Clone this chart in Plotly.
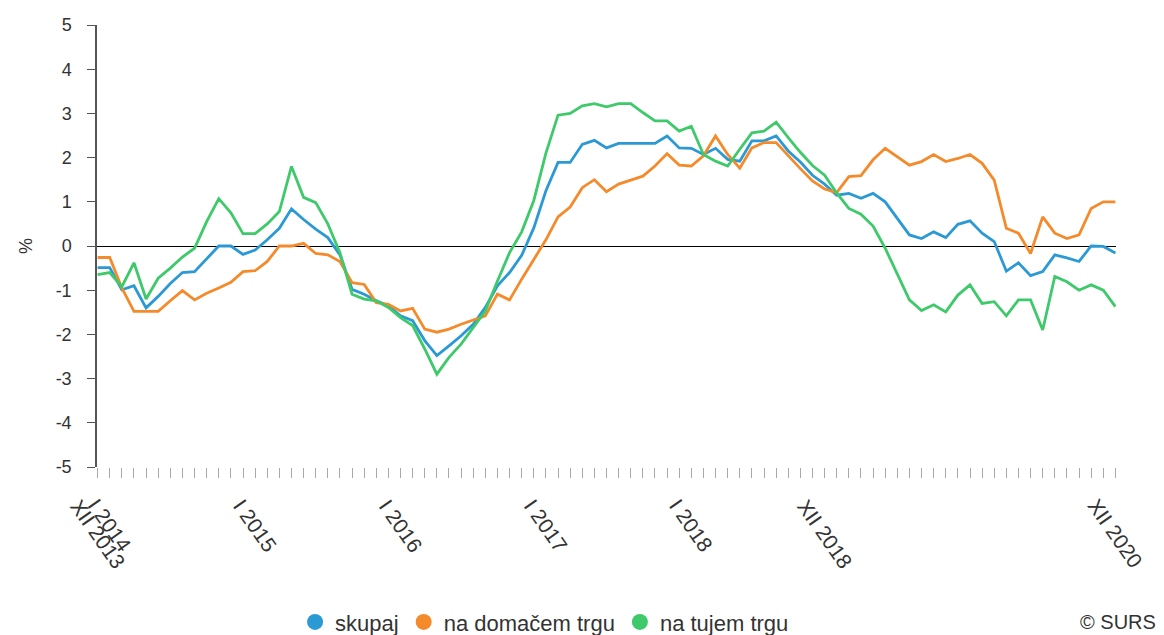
import plotly.graph_objects as go

months = list(range(85))  # XII 2013 .. XII 2020

skupaj = [-0.49, -0.49, -0.99, -0.90, -1.40, -1.14, -0.85, -0.60, -0.58, -0.28,
          0.00, 0.00, -0.19, -0.09, 0.14, 0.40, 0.84, 0.60, 0.38, 0.19,
          -0.20, -0.98, -1.09, -1.24, -1.35, -1.58, -1.69, -2.14, -2.48, -2.26,
          -2.03, -1.77, -1.39, -0.90, -0.60, -0.21, 0.41, 1.25, 1.89, 1.89,
          2.30, 2.39, 2.22, 2.32, 2.32, 2.32, 2.32, 2.49, 2.22, 2.21,
          2.07, 2.21, 1.96, 1.92, 2.38, 2.38, 2.49, 2.15, 1.90, 1.60,
          1.40, 1.15, 1.19, 1.08, 1.19, 1.00, 0.63, 0.25, 0.17, 0.32,
          0.19, 0.49, 0.57, 0.29, 0.10, -0.57, -0.38, -0.67, -0.58, -0.20,
          -0.27, -0.35, 0.00, -0.01, -0.16]

domacem = [-0.26, -0.26, -0.95, -1.48, -1.48, -1.48, -1.24, -1.01, -1.22, -1.07,
           -0.95, -0.82, -0.58, -0.56, -0.35, 0.00, 0.00, 0.06, -0.17, -0.20,
           -0.35, -0.83, -0.87, -1.28, -1.32, -1.47, -1.41, -1.88, -1.95, -1.88,
           -1.77, -1.68, -1.58, -1.09, -1.22, -0.75, -0.30, 0.14, 0.66, 0.88,
           1.32, 1.50, 1.23, 1.40, 1.49, 1.58, 1.81, 2.09, 1.83, 1.81,
           2.04, 2.49, 2.07, 1.76, 2.22, 2.34, 2.34, 2.04, 1.75, 1.47,
           1.29, 1.21, 1.57, 1.59, 1.95, 2.21, 2.02, 1.83, 1.91, 2.07,
           1.91, 1.98, 2.07, 1.87, 1.49, 0.40, 0.29, -0.17, 0.66, 0.29,
           0.17, 0.25, 0.85, 1.00, 1.00]

tujem = [-0.65, -0.60, -0.92, -0.38, -1.20, -0.73, -0.50, -0.25, -0.05, 0.55,
         1.07, 0.75, 0.28, 0.28, 0.50, 0.78, 1.80, 1.10, 0.98, 0.50,
         -0.15, -1.09, -1.20, -1.24, -1.39, -1.62, -1.80, -2.33, -2.90, -2.52,
         -2.22, -1.84, -1.47, -0.79, -0.15, 0.32, 1.03, 2.10, 2.96, 3.00,
         3.17, 3.22, 3.15, 3.22, 3.22, 3.02, 2.83, 2.83, 2.60, 2.71,
         2.07, 1.92, 1.81, 2.19, 2.56, 2.60, 2.80, 2.45, 2.12, 1.82,
         1.60, 1.20, 0.85, 0.72, 0.45, -0.05, -0.65, -1.22, -1.46, -1.33,
         -1.49, -1.11, -0.88, -1.30, -1.26, -1.58, -1.22, -1.22, -1.90, -0.69,
         -0.81, -1.00, -0.88, -1.00, -1.37]

label_pos = [0, 1, 13, 25, 37, 49, 60, 84]
label_text = ["XII 2013", "I 2014", "I 2015", "I 2016", "I 2017", "I 2018", "XII 2018", "XII 2020"]

y_tickvals = [-5, -4, -3, -2, -1, 0, 1, 2, 3, 4, 5]
y_ticktext = ["-5", "-4", "-3", "-2", "-1", "0", "1", "2", "3", "4", "5"]

series_names = ["skupaj", "na domačem trgu", "na tujem trgu"]
colors = ["#2b9ad4", "#f58a2b", "#3ec96a"]

FONT = "Liberation Sans, Arial, sans-serif"

fig = go.Figure()
for name, vals, c in zip(series_names, [skupaj, domacem, tujem], colors):
    fig.add_trace(go.Scatter(x=months, y=vals, mode="lines", name=name,
                             line=dict(color=c, width=2.8), showlegend=False))
for name, c in zip(series_names, colors):
    fig.add_trace(go.Scatter(x=[None], y=[None], mode="markers", name=name,
                             marker=dict(color=c, size=18, symbol="circle")))

fig.update_layout(
    width=1156, height=627,
    margin=dict(l=89, r=48, t=17, b=168, autoexpand=False),
    paper_bgcolor="white", plot_bgcolor="white",
    font=dict(family=FONT, size=18, color="#333333"),
    showlegend=True,
    legend=dict(orientation="h", x=0.1944, xanchor="left", y=-0.351, yanchor="middle",
                font=dict(size=22, color="#333333"), itemwidth=30, traceorder="normal"),
    xaxis=dict(range=[-0.05, 84.05], tickmode="array", tickvals=months,
               showticklabels=False, automargin=False,
               ticks="outside", ticklen=10, tickcolor="#aaaaaa", tickwidth=1,
               showgrid=False, zeroline=False, showline=False),
    yaxis=dict(range=[-5, 5], tickmode="array", tickvals=y_tickvals, ticktext=y_ticktext,
               ticks="outside", ticklen=8, tickcolor="#555555",
               showline=True, linecolor="#555555", linewidth=1.5, showgrid=False,
               zeroline=True, zerolinecolor="#000000", zerolinewidth=1.3,
               ticklabelstandoff=12, automargin=False,
               title=dict(text="%", standoff=18, font=dict(size=18, color="#333333")),
               tickfont=dict(size=18, color="#333333")),
)

# rotated month labels, positioned on the category axis
for p, t in zip(label_pos, label_text):
    fig.add_annotation(text=t, x=p, xref="x", y=-0.057, yref="paper",
                       xanchor="center", yanchor="top", textangle=55,
                       showarrow=False, font=dict(family=FONT, size=21, color="#333333"))

fig.add_annotation(text="© SURS", xref="paper", yref="paper", x=1.0412, y=-0.351,
                   xanchor="right", yanchor="middle", showarrow=False,
                   font=dict(size=20, color="#333333"))

fig.write_html("out.html")
